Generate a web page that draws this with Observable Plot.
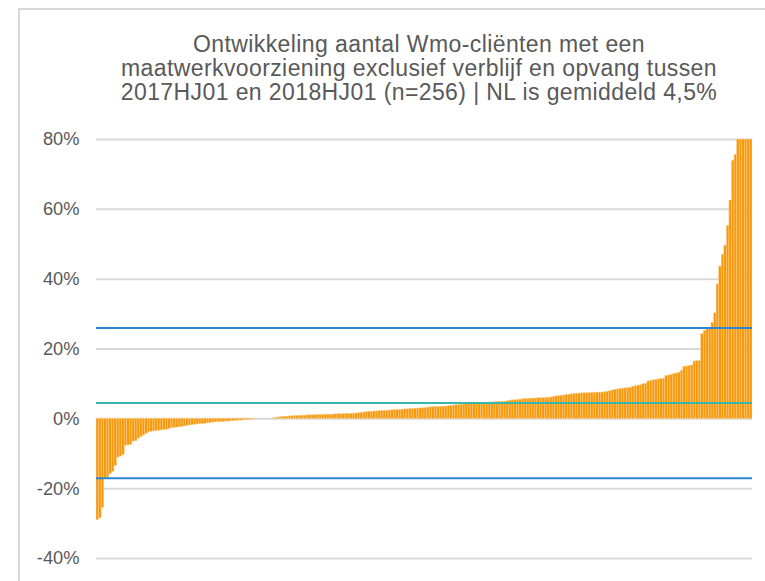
<!DOCTYPE html>
<html>
<head>
<meta charset="utf-8">
<script src="https://cdn.jsdelivr.net/npm/d3@7"></script>
<script src="https://cdn.jsdelivr.net/npm/@observablehq/plot@0.6"></script>
<style>
  html, body { margin: 0; padding: 0; background: #fff; width: 765px; height: 581px; overflow: hidden; }
  #frame { position: absolute; left: 18px; top: 8px; width: 800px; height: 640px; border: 2px solid #d9d9d9; box-sizing: border-box; }
  #title { position: absolute; left: 0; top: 32px; width: 838px; text-align: center; font-family: "Liberation Sans", Arial, sans-serif; font-size: 23px; letter-spacing: 0.4px; line-height: 24px; color: #595959; }
  #chart { position: absolute; left: 0; top: 120px; }
</style>
</head>
<body>
<div id="frame"></div>
<div id="title">Ontwikkeling aantal Wmo-cliënten met een<br>maatwerkvoorziening exclusief verblijf en opvang tussen<br>2017HJ01 en 2018HJ01 (n=256) | NL is gemiddeld 4,5%</div>
<div id="chart"></div>
<script>
// Sorted change per municipality (%), 256 municipalities
const values = [
  -29, -28.5, -25.5, -17.3, -16.8, -15.8, -15.2, -13.5, -11.1, -10.8,
  -10.4, -7.7, -7.6, -7.5, -6.5, -6.4, -5.7, -5.2, -4.8, -4.3,
  -3.9, -3.7, -3.6, -3.5, -3.4, -3.3, -3.2, -3.1, -2.9, -2.7,
  -2.6, -2.5, -2.4, -2.3, -2.2, -2.0, -1.9, -1.8, -1.7, -1.6,
  -1.5, -1.5, -1.4, -1.3, -1.2, -1.1, -1.0, -1.0, -0.9, -0.9,
  -0.8, -0.8, -0.7, -0.7, -0.6, -0.5, -0.5, -0.4, -0.4, -0.3,
  -0.2, -0.1,
  0, 0, 0, 0, 0, 0, 0,
  0.2, 0.3, 0.4, 0.5, 0.6, 0.6, 0.7, 0.7, 0.8, 0.8,
  0.9, 0.9, 0.9, 1.0, 1.0, 1.0, 1.1, 1.1, 1.1, 1.1,
  1.2, 1.2, 1.2, 1.2, 1.3, 1.3, 1.3, 1.3, 1.4, 1.4,
  1.4, 1.5, 1.5, 1.6, 1.7, 1.8, 1.9, 2.0, 2.0, 2.1,
  2.1, 2.2, 2.2, 2.3, 2.3, 2.4, 2.4, 2.5, 2.5, 2.6,
  2.6, 2.7, 2.7, 2.8, 2.8, 2.9, 2.9, 3.0, 3.0, 3.1,
  3.2, 3.3, 3.3, 3.4, 3.4, 3.4, 3.5, 3.5, 3.6, 3.7,
  3.8, 3.9, 3.9, 4.0, 4.1, 4.2, 4.3, 4.4, 4.4, 4.5,
  4.5, 4.5, 4.6, 4.6, 4.6, 4.7, 4.7, 4.8, 4.8, 4.9,
  4.9, 5.0, 5.2, 5.3, 5.3, 5.4, 5.5, 5.6, 5.7, 5.7,
  5.8, 5.8, 5.8, 5.9, 5.9, 5.9, 6.0, 6.0, 6.1, 6.3,
  6.4, 6.5, 6.6, 6.7, 6.8, 6.9, 7.0, 7.1, 7.2, 7.2,
  7.3, 7.3, 7.3, 7.4, 7.4, 7.4, 7.5, 7.5, 7.5, 7.6,
  7.7, 7.9, 8.1, 8.3, 8.4, 8.5, 8.6, 8.7, 8.8, 8.9,
  9.2, 9.3, 9.5, 9.6, 9.9, 10.0, 10.7, 10.9, 11.0, 11.1,
  11.3, 11.4, 11.5, 12.3, 12.4, 12.6, 12.8, 13.0, 13.2, 13.8,
  14.9, 15.0, 15.1, 15.3, 16.4, 16.5, 16.6, 24.3, 25.2, 25.6,
  25.9, 27.5, 30.2, 38.5, 43.6, 47.0, 49.6, 55.3, 62.5, 73.9,
  75.6, 80, 80, 80, 80, 80, 80
];
const boundLines = [26, -17];      // upper and lower reference lines (%)
const nlAverage = [4.5];           // national average (%)
const yTicks = [-40, -20, 0, 20, 40, 60, 80];

const data = values.map((v, i) => ({i, v}));

const chart = Plot.plot({
  width: 765,
  height: 461,
  marginTop: 19,
  marginBottom: 23,
  marginLeft: 96,
  marginRight: 13,
  style: {fontFamily: "'Liberation Sans', Arial, sans-serif", fontSize: "18.3px", color: "#595959", background: "transparent"},
  x: {type: "band", domain: data.map(d => d.i), padding: 0, axis: null},
  y: {domain: [-40, 80], ticks: yTicks, tickFormat: d => d + "%", tickSize: 0, tickPadding: 17, label: null},
  marks: [
    Plot.ruleY(yTicks, {stroke: "#d9d9d9", strokeWidth: 2}),
    Plot.barY(data, {x: "i", y: "v", fill: "#f59a0e", stroke: "#fccb86", strokeWidth: 0.5, clip: true}),
    Plot.ruleY(boundLines, {stroke: "#2a86d2", strokeWidth: 2}),
    Plot.ruleY(nlAverage, {stroke: "#38b6ab", strokeWidth: 2})
  ]
});
document.getElementById("chart").appendChild(chart);
</script>
</body>
</html>
